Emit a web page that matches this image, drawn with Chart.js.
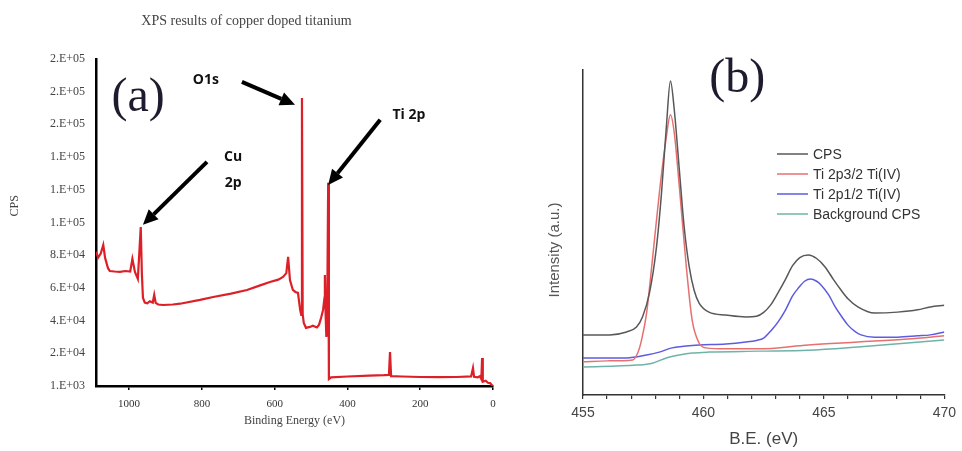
<!DOCTYPE html>
<html>
<head>
<meta charset="utf-8">
<script src="https://cdn.jsdelivr.net/npm/chart.js@4.4.1/dist/chart.umd.min.js"></script>
<style>
  html, body { margin: 0; padding: 0; background: #fff; }
  #wrapA { position: absolute; left: 0; top: 0; width: 500px; height: 451px; }
  #wrapB { position: absolute; left: 500px; top: 0; width: 462px; height: 451px; }
</style>
</head>
<body>
<div id="wrapA"><canvas id="chartA"></canvas></div>
<div id="wrapB"><canvas id="chartB"></canvas></div>
<script>
const SERIF = "'Liberation Serif', 'DejaVu Serif', serif";
const SANS = "'Liberation Sans', Arial, sans-serif";

// (a) survey spectrum
const surveyBE = [1091, 1085, 1078, 1071, 1066, 1058, 1053, 1040, 1025, 1010, 997, 991, 984, 976,
  968, 965, 962, 957, 950, 943, 935, 931, 927, 920, 907, 880, 860, 805, 769, 720, 676, 640, 613,
  590, 577, 568, 563, 558, 550, 543, 536, 530, 527, 525, 523, 520, 514, 503, 495, 484, 478, 472,
  467, 463, 462, 460, 458, 456, 453, 451, 445, 400, 340, 300, 286, 283, 280, 250, 200, 150, 100,
  60, 55, 52, 42, 36, 32, 30, 28, 20, 14, 8, 3, 0];
const surveyCPS = [83000, 79500, 82000, 87200, 79300, 73000, 71300, 71000, 70800, 71300, 71000,
  78700, 70700, 66500, 98200, 70000, 55000, 52000, 51500, 52800, 52000, 56700, 51800, 50800,
  50500, 50800, 51300, 53600, 55400, 57500, 59700, 62500, 64600, 66000, 67700, 70000, 79900,
  65800, 59700, 58500, 57900, 47500, 44400, 177100, 45000, 39500, 36500, 37100, 37800, 36800,
  38500, 43000, 47500, 55000, 68900, 45000, 31000, 34000, 125200, 5300, 6300, 6800, 7300, 7600,
  7800, 21800, 7000, 6800, 6500, 6400, 6500, 6900, 12000, 6600, 6300, 7000, 5200, 18100, 3600,
  4200, 3000, 2800, 1500, 1000];
const surveyTicksX = [0, 200, 400, 600, 800, 1000];
const surveyTicksY = [1000, 21000, 41000, 61000, 81000, 101000, 121000, 141000, 161000, 181000, 201000];
const surveyTickLabelsY = ["1.E+03", "2.E+04", "4.E+04", "6.E+04", "8.E+04", "1.E+05", "1.E+05",
  "1.E+05", "2.E+05", "2.E+05", "2.E+05"];

// peak labels and arrows (data units)
const peakNames = ["O1s", "Ti 2p", "Cu", "2p"];
const peakNameBE = [789, 231, 714, 714];
const peakNameCPS = [188150, 166700, 141000, 125200];
const arrowFromBE = [690, 310, 786];
const arrowFromCPS = [186900, 163700, 138000];
const arrowToBE = [544, 453, 962];
const arrowToCPS = [172900, 123900, 99500];

// (b) Ti 2p high resolution
const cpsBE = [455, 456.11, 456.81, 457.22, 457.47, 457.76, 458.05, 458.26, 458.46, 458.63, 458.79,
  459.0, 459.2, 459.41, 459.61, 459.82, 460.23, 460.93, 461.76, 462.2, 462.5, 462.8, 463.1, 463.4,
  463.7, 464.0, 464.35, 464.7, 465.05, 465.4, 465.71, 466.0, 466.41, 467.11, 468.06, 468.89,
  469.42, 470];
const cpsVal = [18.5, 18.5, 19.4, 20.9, 24.0, 31.4, 45.5, 62.2, 82.5, 96.6, 87.7, 69.2, 51.7, 39.4,
  32.3, 28.3, 25.5, 24.6, 24.0, 24.2, 25.4, 27.8, 31.5, 35.5, 39.8, 42.3, 43.1, 42.0, 39.4, 35.5,
  32.3, 29.6, 27.1, 25.2, 25.5, 26.2, 27.1, 27.6];
const ti32BE = [455, 456, 457.06, 457.27, 457.43, 457.64, 457.88, 458.17, 458.46, 458.63, 458.79,
  459.0, 459.29, 459.53, 459.82, 460.11, 460.93, 462.29, 464.35, 466.41, 468.47, 470];
const ti32Val = [10.2, 10.5, 10.8, 12.9, 16.9, 25.2, 41.5, 62.2, 79.4, 86.2, 80.6, 64.0, 39.4, 23.1,
  16.0, 14.5, 14.2, 14.2, 15.4, 16.3, 17.2, 18.2];
const ti12BE = [455, 456.81, 457.64, 458.17, 458.7, 459.29, 459.82, 460.93, 461.76, 462.2, 462.5,
  462.83, 463.1, 463.41, 463.7, 463.94, 464.2, 464.44, 464.7, 464.89, 465.2, 465.47, 465.75, 466.0,
  466.3, 466.54, 467.11, 468.06, 468.89, 469.42, 470];
const ti12Val = [11.4, 11.4, 12.3, 13.2, 14.5, 15.1, 15.4, 15.7, 16.3, 16.8, 17.5, 20.0, 22.5, 26.2,
  30.5, 32.9, 35.0, 35.7, 35.0, 33.8, 30.8, 27.1, 24.0, 21.5, 19.5, 18.5, 17.8, 17.8, 18.2, 18.5,
  19.4];
const bgBE = [455, 457.22, 457.88, 458.46, 459.0, 459.53, 460.23, 462.29, 464.35, 466.41, 468.47, 470];
const bgVal = [8.6, 9.2, 9.8, 11.4, 12.3, 12.9, 13.2, 13.5, 13.8, 14.8, 16.0, 16.9];

function pts(xs, ys) {
  return xs.map((x, i) => ({ x: x, y: ys[i] }));
}

function drawArrow(ctx, x1, y1, x2, y2) {
  const ang = Math.atan2(y2 - y1, x2 - x1);
  const head = 15, half = 7;
  const bx = x2 - head * Math.cos(ang), by = y2 - head * Math.sin(ang);
  ctx.beginPath();
  ctx.moveTo(x1, y1);
  ctx.lineTo(bx, by);
  ctx.lineWidth = 4;
  ctx.strokeStyle = "#000";
  ctx.stroke();
  ctx.beginPath();
  ctx.moveTo(x2, y2);
  ctx.lineTo(bx + half * Math.sin(ang), by - half * Math.cos(ang));
  ctx.lineTo(bx - half * Math.sin(ang), by + half * Math.cos(ang));
  ctx.closePath();
  ctx.fillStyle = "#000";
  ctx.fill();
}

const surveyNotes = {
  id: "surveyNotes",
  afterDraw(chart) {
    const ctx = chart.ctx, xs = chart.scales.x, ys = chart.scales.y, area = chart.chartArea;
    ctx.save();
    // y title
    ctx.translate(15, area.top + 147);
    ctx.rotate(-Math.PI / 2);
    ctx.font = "12px " + SERIF;
    ctx.fillStyle = "#444";
    ctx.textAlign = "center";
    ctx.textBaseline = "middle";
    ctx.fillText("CPS", 0, 0);
    ctx.restore();

    ctx.save();
    ctx.font = "48px " + SERIF;
    ctx.fillStyle = "#1c1c2e";
    ctx.textAlign = "center";
    ctx.textBaseline = "middle";
    ctx.fillText("(a)", xs.getPixelForValue(975), ys.getPixelForValue(177100));

    ctx.font = "bold 14px 'Open Sans', sans-serif";
    ctx.fillStyle = "#111";
    peakNames.forEach((t, i) => {
      ctx.fillText(t, xs.getPixelForValue(peakNameBE[i]), ys.getPixelForValue(peakNameCPS[i]));
    });
    arrowFromBE.forEach((b, i) => {
      drawArrow(ctx, xs.getPixelForValue(b), ys.getPixelForValue(arrowFromCPS[i]),
        xs.getPixelForValue(arrowToBE[i]), ys.getPixelForValue(arrowToCPS[i]));
    });
    ctx.restore();
  }
};

new Chart(document.getElementById("chartA"), {
  type: "line",
  data: {
    datasets: [{
      label: "CPS",
      data: pts(surveyBE, surveyCPS),
      borderColor: "#dd2027",
      borderWidth: 2.2,
      pointRadius: 0,
      tension: 0
    }]
  },
  options: {
    responsive: true,
    maintainAspectRatio: false,
    animation: false,
    layout: { padding: { left: 0, right: 7, top: 0, bottom: 0 } },
    plugins: {
      legend: { display: false },
      tooltip: { enabled: false },
      title: {
        display: true,
        text: "XPS results of copper doped titanium",
        font: { family: SERIF, size: 14, weight: "normal" },
        color: "#444",
        padding: { top: 13, bottom: 29 }
      }
    },
    scales: {
      x: {
        type: "linear",
        reverse: true,
        min: 0,
        max: 1091,
        afterBuildTicks: s => { s.ticks = surveyTicksX.map(v => ({ value: v })); },
        afterFit: s => { s.height = 65; },
        ticks: {
          font: { family: SERIF, size: 11 },
          color: "#333",
          padding: 8,
          maxRotation: 0,
          callback: v => String(v)
        },
        grid: { drawOnChartArea: false, drawTicks: true, tickLength: 4, color: "#000", lineWidth: 1.5 },
        border: { display: true, color: "#000", width: 2.5 },
        title: {
          display: true,
          text: "Binding Energy (eV)",
          font: { family: SERIF, size: 12 },
          color: "#444",
          padding: { top: 0, bottom: 23 }
        }
      },
      y: {
        type: "linear",
        min: 1000,
        max: 201000,
        afterBuildTicks: s => { s.ticks = surveyTicksY.map(v => ({ value: v })); },
        afterFit: s => { s.width = 96; },
        ticks: {
          font: { family: SERIF, size: 12 },
          color: "#444",
          padding: 11,
          callback: v => surveyTickLabelsY[surveyTicksY.indexOf(v)]
        },
        grid: { display: false, drawTicks: false },
        border: { display: true, color: "#000", width: 2.5 }
      }
    }
  },
  plugins: [surveyNotes]
});

const tiNotes = {
  id: "tiNotes",
  afterDraw(chart) {
    const ctx = chart.ctx, xs = chart.scales.x, ys = chart.scales.y, area = chart.chartArea;
    ctx.save();
    ctx.translate(55, area.top + 180);
    ctx.rotate(-Math.PI / 2);
    ctx.font = "15px " + SANS;
    ctx.fillStyle = "#555";
    ctx.textAlign = "center";
    ctx.textBaseline = "middle";
    ctx.fillText("Intensity (a.u.)", 0, 0);
    ctx.restore();

    ctx.save();
    ctx.font = "48px " + SERIF;
    ctx.fillStyle = "#1c1c2e";
    ctx.textAlign = "center";
    ctx.textBaseline = "middle";
    ctx.fillText("(b)", xs.getPixelForValue(461.4), ys.getPixelForValue(97));

    // legend
    const lx = area.left + 194, ly = area.top + 84;
    ctx.font = "14px " + SANS;
    ctx.textAlign = "left";
    chart.data.datasets.forEach((ds, i) => {
      const y = ly + i * 20;
      ctx.beginPath();
      ctx.moveTo(lx, y);
      ctx.lineTo(lx + 31, y);
      ctx.strokeStyle = ds.borderColor;
      ctx.lineWidth = 1.5;
      ctx.stroke();
      ctx.fillStyle = "#333";
      ctx.fillText(ds.label, lx + 36, y + 1);
    });
    ctx.restore();
  }
};

const lineStyle = { pointRadius: 0, borderWidth: 1.5, cubicInterpolationMode: "monotone" };

new Chart(document.getElementById("chartB"), {
  type: "line",
  data: {
    datasets: [
      Object.assign({ label: "CPS", data: pts(cpsBE, cpsVal), borderColor: "#585858" }, lineStyle),
      Object.assign({ label: "Ti 2p3/2 Ti(IV)", data: pts(ti32BE, ti32Val), borderColor: "#e67070" }, lineStyle),
      Object.assign({ label: "Ti 2p1/2 Ti(IV)", data: pts(ti12BE, ti12Val), borderColor: "#5c5ce0" }, lineStyle),
      Object.assign({ label: "Background CPS", data: pts(bgBE, bgVal), borderColor: "#6fb3a8" }, lineStyle)
    ]
  },
  options: {
    responsive: true,
    maintainAspectRatio: false,
    animation: false,
    layout: { padding: { left: 0, right: 15, top: 70, bottom: 0 } },
    plugins: {
      legend: { display: false },
      tooltip: { enabled: false }
    },
    scales: {
      x: {
        type: "linear",
        min: 455,
        max: 470,
        afterFit: s => { s.height = 56; },
        ticks: {
          stepSize: 1,
          autoSkip: false,
          maxRotation: 0,
          font: { family: SANS, size: 14 },
          color: "#444",
          padding: 6,
          callback: v => (v % 5 === 0 ? String(v) : "")
        },
        grid: { drawOnChartArea: false, drawTicks: true, tickLength: 4, color: "#333", lineWidth: 1.2 },
        border: { display: true, color: "#333", width: 1.5 },
        title: {
          display: true,
          text: "B.E. (eV)",
          font: { family: SANS, size: 17 },
          color: "#444",
          padding: { top: 0, bottom: 1 }
        }
      },
      y: {
        type: "linear",
        min: 0,
        max: 100,
        afterFit: s => { s.width = 83; },
        ticks: { display: false },
        grid: { display: false },
        border: { display: true, color: "#333", width: 1.5 }
      }
    }
  },
  plugins: [tiNotes]
});
</script>
</body>
</html>
